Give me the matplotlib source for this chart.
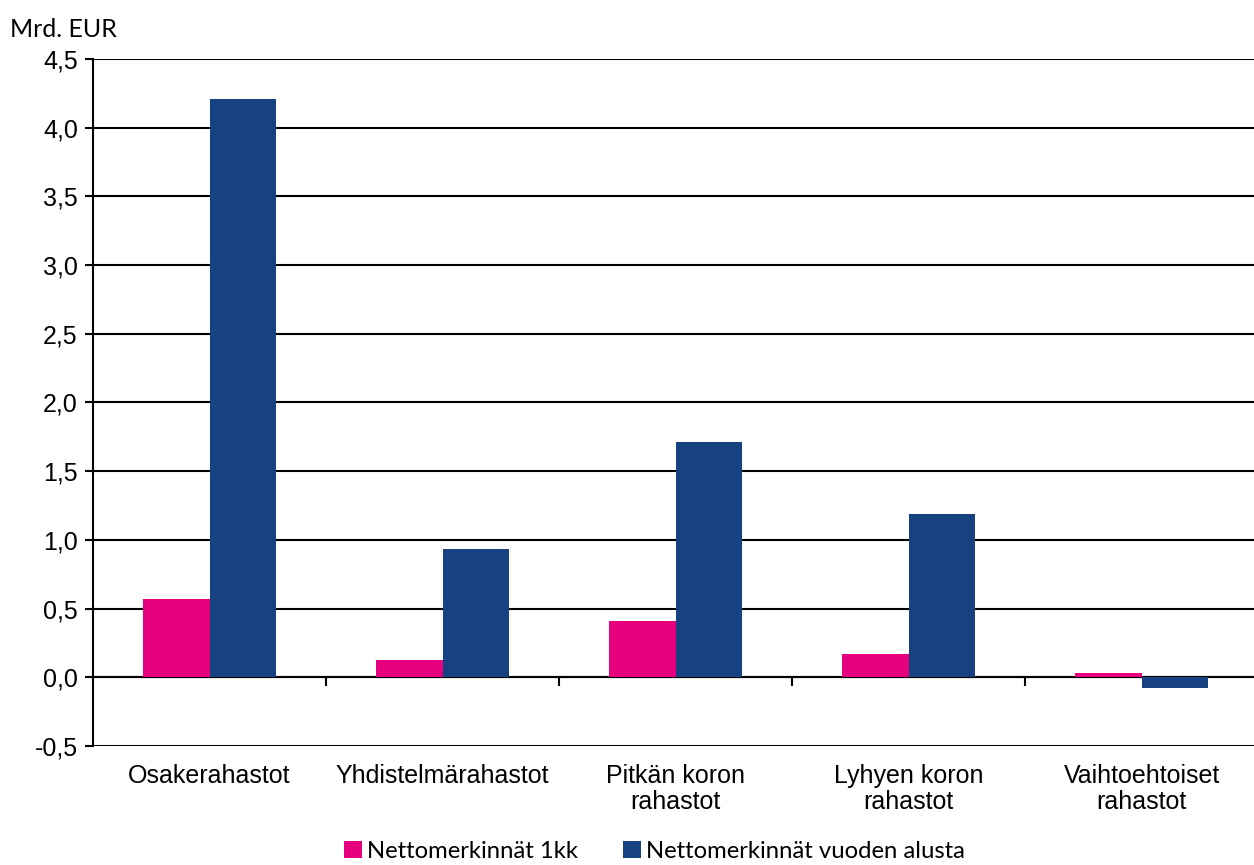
import matplotlib.pyplot as plt
import numpy as np

# data
categories = ['Osakerahastot', 'Yhdistelmärahastot', 'Pitkän koron\nrahastot',
              'Lyhyen koron\nrahastot', 'Vaihtoehtoiset\nrahastot']
month_vals = [0.57, 0.125, 0.41, 0.17, 0.03]
ytd_vals = [4.21, 0.93, 1.71, 1.19, -0.08]
series_names = ['Nettomerkinnät 1kk', 'Nettomerkinnät vuoden alusta']
yticks = np.arange(-0.5, 4.51, 0.5)

pink = '#E6007E'
blue = '#174281'

fig = plt.figure(figsize=(12.54, 8.65), dpi=100)
ax = fig.add_axes([0.0742, 0.1376, 0.929, 0.7942])

x = np.arange(len(categories))
w = 0.285
ax.bar(x - w/2, month_vals, w, color=pink, label=series_names[0], zorder=3)
ax.bar(x + w/2, ytd_vals, w, color=blue, label=series_names[1], zorder=3)

ax.set_xlim(-0.5, len(categories) - 0.5)
ax.set_ylim(-0.5, 4.5)
ax.set_yticks(yticks)
ax.set_yticklabels([f'{v:.1f}'.replace('.', ',') for v in yticks],
                   fontfamily='Liberation Sans', fontsize=18)
ax.yaxis.grid(True, color='black', linewidth=1.5, zorder=1)
ax.tick_params(axis='y', length=6, width=1.5, pad=5)

ax.set_xticks(x)
ax.set_xticklabels(categories, fontfamily='Liberation Sans', fontsize=18, linespacing=1.1)
ax.tick_params(axis='x', length=0, pad=13)

# category separators hanging below the zero line
ax.axhline(0, color='black', linewidth=1.5, zorder=2)
ax.vlines(np.arange(0.5, len(categories) - 0.5), -0.06, 0, color='black', linewidth=1.5, zorder=4)

for s in ['top', 'right', 'bottom']:
    ax.spines[s].set_visible(False)
ax.spines['left'].set_linewidth(1.5)

fig.text(0.008, 0.957, 'Mrd. EUR', fontfamily='Lato', fontsize=18)

leg = fig.legend(loc='lower center', bbox_to_anchor=(0.522, -0.021), ncol=2, frameon=False,
                 prop={'family': 'Lato', 'size': 17.2}, handlelength=0.75, handleheight=0.75,
                 handletextpad=0.2, columnspacing=1.9)

fig.savefig('out.png', dpi=100)
